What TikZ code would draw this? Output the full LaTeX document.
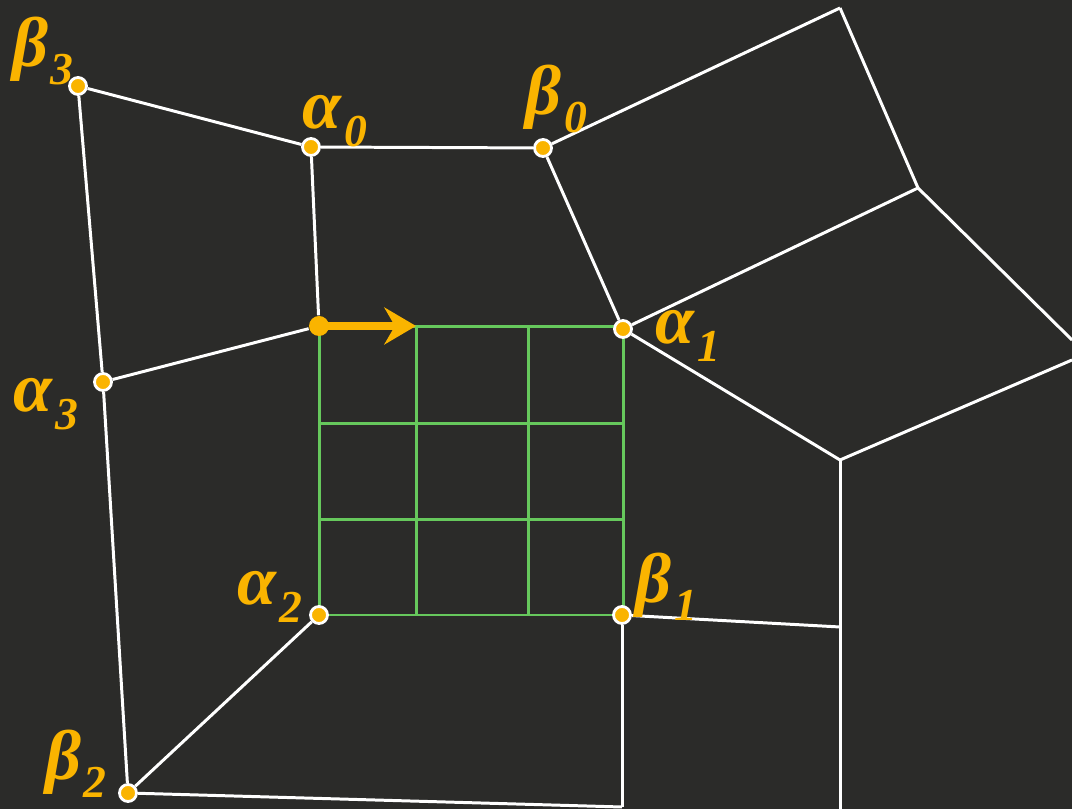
\documentclass[tikz,border=0pt]{standalone}
\usepackage{fontspec}
\setmainfont{Liberation Serif}
\usetikzlibrary{arrows.meta}
\definecolor{bgdark}{RGB}{43,43,41}
\definecolor{dotorange}{RGB}{250,180,0}
\definecolor{meshgreen}{RGB}{102,200,92}
\newcommand{\glab}[2]{\textbf{\textit{#1}}\kern0.8pt\raisebox{-5pt}{\fontsize{13}{14}\selectfont\textbf{\textit{#2}}}}
\begin{document}
\begin{tikzpicture}[
    edge/.style={white, line width=0.85pt},
    mesh/.style={meshgreen, line width=0.85pt},
    vert/.style={circle, fill=dotorange, draw=white, line width=0.8pt, inner sep=0pt, minimum size=0.17cm},
    lbl/.style={text=dotorange, font=\fontsize{20}{22}\selectfont, inner sep=0pt},
    arr/.style={-{Stealth[length=9pt, width=10.5pt, inset=3pt]}, dotorange, line width=2.3pt},
]
\useasboundingbox (0,0) rectangle (10.72,8.09);
\fill[bgdark] (0,0) rectangle (10.72,8.09);
% Sampling grid inside the cell
\foreach \x in {3.19,4.16,5.28,6.23}
  \draw[mesh] (\x,1.94) -- (\x,4.82);
\foreach \y in {1.94,2.89,3.85,4.82}
  \draw[mesh] (3.19,\y) -- (6.23,\y);
% Corner vertices
\node[vert] (b3) at (0.78, 7.23) {};
\node[vert] (a0) at (3.11, 6.62) {};
\node[vert] (b0) at (5.43, 6.61) {};
\node[vert] (a1) at (6.23, 4.80) {};
\node[vert] (b1) at (6.22, 1.94) {};
\node[vert] (a2) at (3.19, 1.94) {};
\node[vert] (b2) at (1.28, 0.16) {};
\node[vert] (a3) at (1.03, 4.27) {};
\node[circle, fill=dotorange, inner sep=0pt, minimum size=0.2cm] (start) at (3.19, 4.83) {};
% Outer mesh points
\coordinate (top) at (8.40, 8.01);
\coordinate (rim) at (9.18, 6.21);
\coordinate (outa) at (10.72, 4.69);
\coordinate (mid) at (8.40, 3.49);
\coordinate (outb) at (10.72, 4.49);
\coordinate (midlow) at (8.40, 0);
\coordinate (side) at (8.40, 1.82);
\coordinate (foot) at (6.22, 0.02);
\coordinate (tip) at (4.16, 4.83);
% Mesh edges
\draw[edge] (b3) -- (a0);
\draw[edge] (b3) -- (a3);
\draw[edge] (a3) -- (b2);
\draw[edge] (a0) -- (b0);
\draw[edge] (a0) -- (start);
\draw[edge] (a3) -- (start);
\draw[edge] (b0) -- (a1);
\draw[edge] (b0) -- (top);
\draw[edge] (top) -- (rim);
\draw[edge] (a1) -- (rim);
\draw[edge] (rim) -- (outa);
\draw[edge] (a1) -- (mid);
\draw[edge] (mid) -- (outb);
\draw[edge] (mid) -- (midlow);
\draw[edge] (b1) -- (side);
\draw[edge] (b1) -- (foot);
\draw[edge] (a2) -- (b2);
\draw[edge] (b2) -- (foot);
% Scan direction
\draw[arr] (start.center) -- (tip);
% Labels
\node[lbl] at (0.43, 7.58) {\glab{β}{3}};
\node[lbl] at (3.35, 6.88) {\glab{α}{0}};
\node[lbl] at (5.56, 7.10) {\glab{β}{0}};
\node[lbl] at (6.88, 4.73) {\glab{α}{1}};
\node[lbl] at (0.46, 4.05) {\glab{α}{3}};
\node[lbl] at (2.70, 2.12) {\glab{α}{2}};
\node[lbl] at (6.66, 2.22) {\glab{β}{1}};
\node[lbl] at (0.76, 0.45) {\glab{β}{2}};
\end{tikzpicture}
\end{document}
